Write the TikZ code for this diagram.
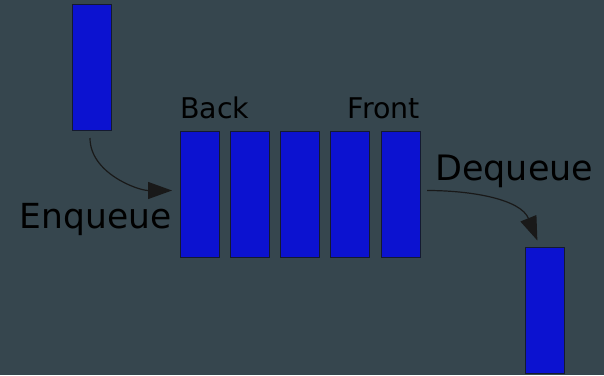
\documentclass[tikz,border=0pt]{standalone}
\usepackage{fontspec}
\setmainfont{DejaVu Sans}
\usetikzlibrary{arrows.meta}
\definecolor{bgc}{HTML}{36464E}
\definecolor{boxc}{HTML}{0C12D0}
\definecolor{edgec}{HTML}{141A30}
\begin{document}
\begin{tikzpicture}[x=1pt,y=-1pt,
  elem/.style={draw=edgec, line width=1pt, fill=boxc, minimum width=39pt, minimum height=126pt, inner sep=0pt, anchor=north west},
  lbl/.style={inner sep=0pt, text=black},
  conn/.style={draw=black!90, line width=1.2pt, -{Triangle[length=24pt,width=17pt]}}]
\fill[bgc] (0,0) rectangle (604,375);
\useasboundingbox (0,0) rectangle (604,375);
\node[elem] (top) at (72,4) {};
\node[elem] (q1) at (180,131) {};
\node[elem] (q2) at (230,131) {};
\node[elem] (q3) at (280,131) {};
\node[elem] (q4) at (330,131) {};
\node[elem] (q5) at (381,131) {};
\node[elem] (out) at (525,247) {};
\node[lbl, anchor=base west, font=\fontsize{28.5}{32}\selectfont] (back) at (180,118) {Back};
\node[lbl, anchor=base east, font=\fontsize{28.5}{32}\selectfont] (front) at (420,118) {Front};
\node[lbl, anchor=base east, font=\fontsize{34.5}{40}\selectfont] (enq) at (171.5,228) {Enqueue};
\node[lbl, anchor=base west, font=\fontsize{35}{40}\selectfont] (deq) at (435,180) {Dequeue};
\draw[conn, shorten <=7pt, shorten >=8pt] ([xshift=-2pt]top.south) to[out=-90,in=180] ([yshift=4pt]q1.west);
\draw[conn, shorten <=6pt, shorten >=7pt] ([yshift=4pt]q5.east) to[out=0,in=112] ([xshift=-5pt]out.north);
\end{tikzpicture}
\end{document}
